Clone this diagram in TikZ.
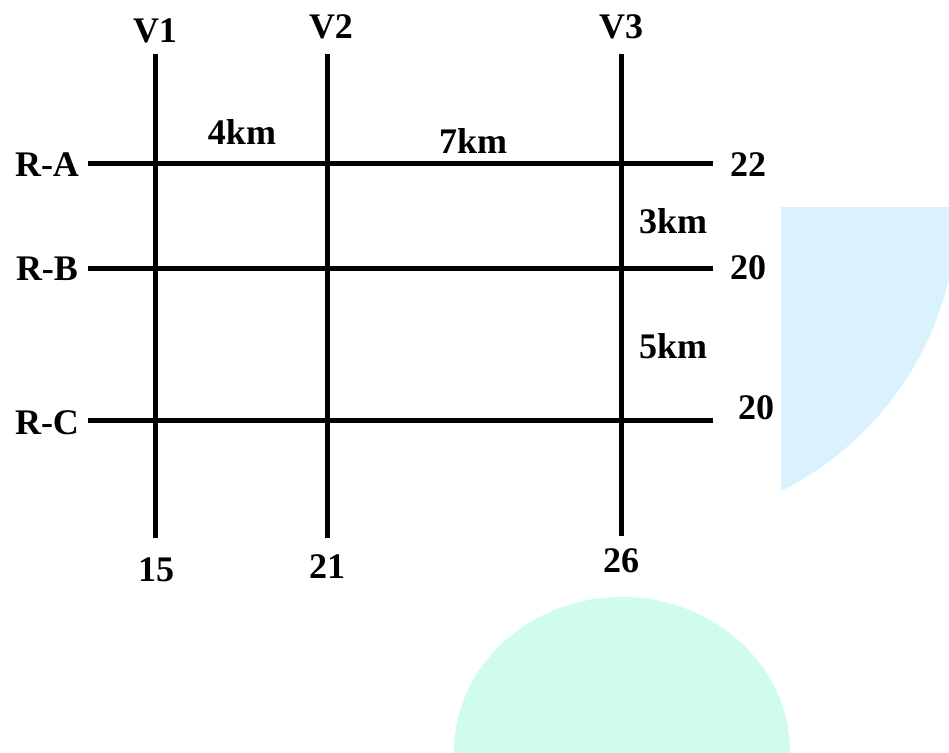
\documentclass[tikz,border=0pt]{standalone}
\usepackage{fontspec}
\setmainfont{Liberation Serif}
\begin{document}
\begin{tikzpicture}[x=1pt,y=-1pt,
  road/.style={line width=5pt,black},
  lbl/.style={inner sep=0pt,font=\fontsize{36}{42}\selectfont\bfseries}]
\useasboundingbox (0,0) rectangle (949,752);
% decorative shapes
\begin{scope}
  \clip (781,207) rectangle (949,490);
  \fill[fill={rgb,255:red,217;green,242;blue,253}] (640,207) circle[radius=317];
\end{scope}
\begin{scope}
  \clip (0,0) rectangle (949,752);
  \fill[fill={rgb,255:red,208;green,252;blue,239}] (622,752) ellipse[x radius=168,y radius=155];
\end{scope}
% road end points
\coordinate (v1t) at (155,54);  \coordinate (v1b) at (155,538);
\coordinate (v2t) at (327,54);  \coordinate (v2b) at (327,538);
\coordinate (v3t) at (621,54);  \coordinate (v3b) at (621,536);
\coordinate (ral) at (88,163);  \coordinate (rar) at (713,163);
\coordinate (rbl) at (88,268);  \coordinate (rbr) at (713,268);
\coordinate (rcl) at (88,420);  \coordinate (rcr) at (713,420);
\draw[road] (v1t) -- (v1b);
\draw[road] (v2t) -- (v2b);
\draw[road] (v3t) -- (v3b);
\draw[road] (ral) -- (rar);
\draw[road] (rbl) -- (rbr);
\draw[road] (rcl) -- (rcr);
% labels
\node[lbl] (lv1) at (155,31) {V1};
\node[lbl] (lv2) at (331,27) {V2};
\node[lbl] (lv3) at (621,27) {V3};
\node[lbl] (lra) at (47,165) {R-A};
\node[lbl] (lrb) at (47,269) {R-B};
\node[lbl] (lrc) at (47,423) {R-C};
\node[lbl] (d4) at (242,132) {4km};
\node[lbl] (d7) at (473,141) {7km};
\node[lbl] (d3) at (673,221) {3km};
\node[lbl] (d5) at (673,346) {5km};
\node[lbl] (e22) at (748,165) {22};
\node[lbl] (e20a) at (748,268) {20};
\node[lbl] (e20b) at (756,408) {20};
\node[lbl] (b15) at (156,570) {15};
\node[lbl] (b21) at (327,567) {21};
\node[lbl] (b26) at (621,561) {26};
\end{tikzpicture}
\end{document}
